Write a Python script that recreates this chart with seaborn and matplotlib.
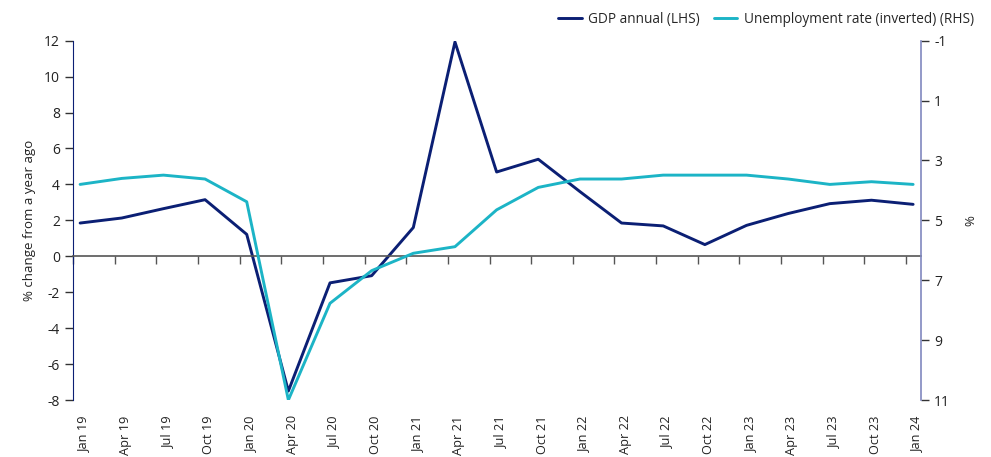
import numpy as np
import pandas as pd
import matplotlib
matplotlib.use("Agg")
import matplotlib.pyplot as plt
import seaborn as sns

quarters = ["Jan 19", "Apr 19", "Jul 19", "Oct 19", "Jan 20", "Apr 20", "Jul 20",
            "Oct 20", "Jan 21", "Apr 21", "Jul 21", "Oct 21", "Jan 22", "Apr 22",
            "Jul 22", "Oct 22", "Jan 23", "Apr 23", "Jul 23", "Oct 23", "Jan 24"]
gdp = [1.85, 2.13, 2.65, 3.15, 1.22, -7.5, -1.48, -1.08, 1.6, 11.93, 4.69,
       5.4, 3.6, 1.85, 1.69, 0.65, 1.72, 2.38, 2.93, 3.12, 2.89]
unemp = [3.80, 3.60, 3.49, 3.62, 4.38, 11.0, 7.77, 6.68, 6.10, 5.88, 4.65,
         3.90, 3.62, 3.62, 3.49, 3.49, 3.49, 3.62, 3.80, 3.71, 3.80]

navy = "#0b1f74"
teal = "#1cb4c6"

sns.set_style("white")
plt.rcParams["font.family"] = ["Open Sans", "DejaVu Sans"]
plt.rcParams["font.size"] = 9.5
plt.rcParams["axes.unicode_minus"] = False

# data sits mid-month, ticks at the start of each quarter
pos = np.arange(len(quarters))
df = pd.DataFrame({"x": pos + 0.17, "gdp": gdp, "unemp": unemp})

fig = plt.figure(figsize=(9.91, 4.57), dpi=100)
ax = fig.add_axes([0.0737, 0.1247, 0.8557, 0.7863])
ax2 = ax.twinx()

sns.lineplot(data=df, x="x", y="gdp", ax=ax, color=navy, lw=2.1,
             label="GDP annual (LHS)", legend=False)
sns.lineplot(data=df, x="x", y="unemp", ax=ax2, color=teal, lw=2.1,
             label="Unemployment rate (inverted) (RHS)", legend=False)

ax.set_xlim(0, 20.36)
ax.set_ylim(-8, 12)
ax.set_yticks(range(-8, 13, 2))
ax2.set_ylim(11, -1)
ax2.set_yticks(range(-1, 12, 2))

# tick marks hang off the zero line, labels at the bottom
ax.spines["bottom"].set_position(("data", 0))
ax.spines["bottom"].set_color("#555555")
ax.spines["bottom"].set_linewidth(1.2)
ax.set_xticks(pos)
ax.set_xticklabels([])
ax.tick_params(axis="x", bottom=True, length=6, width=1, color="#555555")

sec = ax.secondary_xaxis(0)
sec.set_xticks(pos + 0.26)
sec.set_xticklabels(quarters, rotation=90)
sec.tick_params(axis="x", length=0, pad=11, labelsize=9.2, colors="#222222")
sec.spines["bottom"].set_visible(False)

for s in ["top", "right"]:
    ax.spines[s].set_visible(False)
for s in ["top", "left", "bottom"]:
    ax2.spines[s].set_visible(False)
ax.spines["left"].set_color(navy)
ax2.spines["right"].set_color("#8088bf")
ax2.spines["right"].set_linewidth(1.2)

ax.tick_params(axis="y", left=True, length=6, width=1, color="#333333",
               labelsize=10, labelcolor="#222222")
ax2.tick_params(axis="y", right=True, length=6, width=1, color="#333333",
                labelsize=10, labelcolor="#222222")

ax.set_xlabel("")
ax.set_ylabel("% change from a year ago", fontsize=9.5, color="#222222", labelpad=6)
ax2.set_xlabel("")
ax2.set_ylabel("%", fontsize=9.5, color="#222222", labelpad=10)

h1, l1 = ax.get_legend_handles_labels()
h2, l2 = ax2.get_legend_handles_labels()
fig.legend(h1 + h2, l1 + l2, loc="upper right", bbox_to_anchor=(0.995, 1.0),
           ncol=2, frameon=False, fontsize=9.8, handlelength=1.7,
           columnspacing=1.0, handletextpad=0.5)

fig.savefig("out.png", dpi=100)
